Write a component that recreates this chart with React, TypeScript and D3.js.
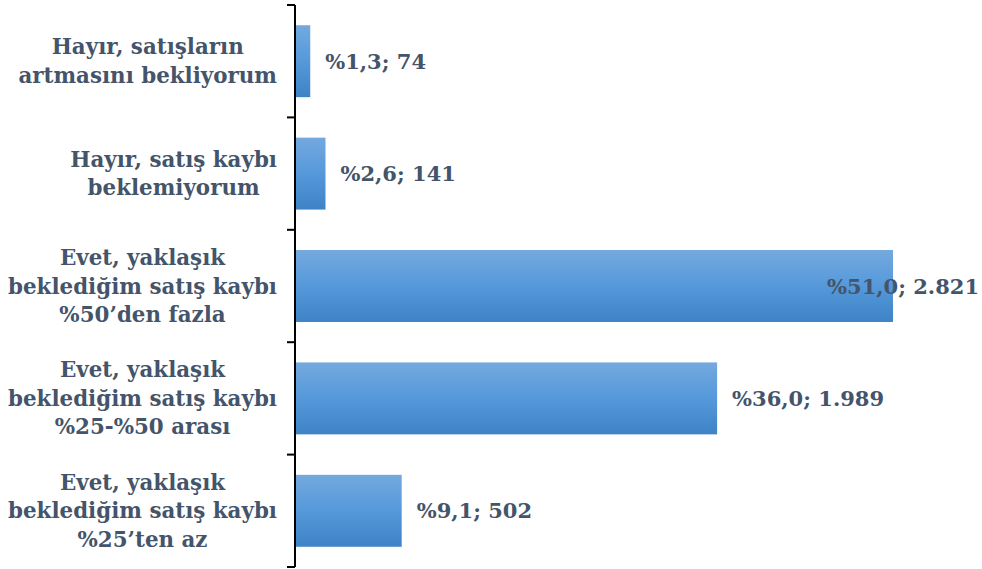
import React, { useEffect, useRef } from "react";
import * as d3 from "d3";

const categories: string[] = [
  "Hayır, satışların\nartmasını bekliyorum",
  "Hayır, satış kaybı\nbeklemiyorum",
  "Evet, yaklaşık\nbeklediğim satış kaybı\n%50’den fazla",
  "Evet, yaklaşık\nbeklediğim satış kaybı\n%25-%50 arası",
  "Evet, yaklaşık\nbeklediğim satış kaybı\n%25’ten az",
];
const percents: number[] = [1.3, 2.6, 51.0, 36.0, 9.1];
const counts: number[] = [74, 141, 2821, 1989, 502];

const W = 982;
const H = 569;
const FONT = "'DejaVu Serif', 'Liberation Serif', serif";
const TEXT_COLOR = "#44546A";

function fmtPct(v: number): string {
  return "%" + v.toFixed(1).replace(".", ",");
}
function fmtCount(v: number): string {
  return v.toLocaleString("en-US").replace(/,/g, ".");
}

export default function App() {
  const ref = useRef<SVGSVGElement | null>(null);

  useEffect(() => {
    const svg = d3.select(ref.current);
    svg.selectAll("*").remove();

    const axisX = 295;
    const top = 5;
    const bottom = 567;

    const x = d3.scaleLinear().domain([0, 51.0]).range([axisX, 893]);
    const y = d3
      .scaleBand<number>()
      .domain(d3.range(categories.length))
      .range([top, bottom])
      .paddingInner(0.36)
      .paddingOuter(0.18);

    const defs = svg.append("defs");
    const grad = defs
      .append("linearGradient")
      .attr("id", "barGrad")
      .attr("x1", 0)
      .attr("y1", 0)
      .attr("x2", 0)
      .attr("y2", 1);
    grad.append("stop").attr("offset", "0%").attr("stop-color", "#74A9DE");
    grad.append("stop").attr("offset", "50%").attr("stop-color", "#5599DB");
    grad.append("stop").attr("offset", "100%").attr("stop-color", "#3E83C5");

    // bars
    svg
      .append("g")
      .selectAll("rect")
      .data(percents)
      .join("rect")
      .attr("x", axisX)
      .attr("y", (_d, i) => y(i)!)
      .attr("width", (d) => x(d) - axisX)
      .attr("height", y.bandwidth())
      .attr("fill", "url(#barGrad)");

    // axis line & ticks
    const bandStep = (bottom - top) / categories.length;
    const axisG = svg.append("g");
    axisG
      .append("line")
      .attr("x1", axisX)
      .attr("x2", axisX)
      .attr("y1", top)
      .attr("y2", bottom)
      .attr("stroke", "#000")
      .attr("stroke-width", 2);
    d3.range(categories.length + 1).forEach((k) => {
      const yy = top + k * bandStep;
      axisG
        .append("line")
        .attr("x1", axisX - 8)
        .attr("x2", axisX)
        .attr("y1", yy)
        .attr("y2", yy)
        .attr("stroke", "#000")
        .attr("stroke-width", 2);
    });

    // category labels
    const lineH = 28.5;
    const rightEdge = 277;
    categories.forEach((cat, i) => {
      const lines = cat.split("\n");
      const cy = y(i)! + y.bandwidth() / 2;
      const g = svg.append("g");
      const texts = lines.map((ln, j) =>
        g
          .append("text")
          .attr("y", cy + (j - (lines.length - 1) / 2) * lineH)
          .attr("dominant-baseline", "central")
          .attr("text-anchor", "middle")
          .attr("font-family", FONT)
          .attr("font-weight", "bold")
          .attr("font-size", 21.4)
          .attr("fill", TEXT_COLOR)
          .text(ln)
      );
      const widths = texts.map((t) => (t.node() as SVGTextElement).getComputedTextLength());
      const blockW = Math.max(...widths);
      texts.forEach((t) => t.attr("x", rightEdge - blockW / 2));
    });

    // value labels
    percents.forEach((p, i) => {
      const cy = y(i)! + y.bandwidth() / 2;
      const t = svg
        .append("text")
        .attr("y", cy)
        .attr("dominant-baseline", "central")
        .attr("font-family", FONT)
        .attr("font-weight", "bold")
        .attr("font-size", 21)
        .attr("fill", TEXT_COLOR)
        .text(`${fmtPct(p)}; ${fmtCount(counts[i])}`);
      const tw = (t.node() as SVGTextElement).getComputedTextLength();
      const xx = Math.min(x(p) + 15, W - 3 - tw);
      t.attr("x", xx);
    });
  }, []);

  return (
    <svg
      ref={ref}
      width={W}
      height={H}
      style={{ position: "absolute", left: 0, top: 0, display: "block", background: "#fff" }}
    />
  );
}
